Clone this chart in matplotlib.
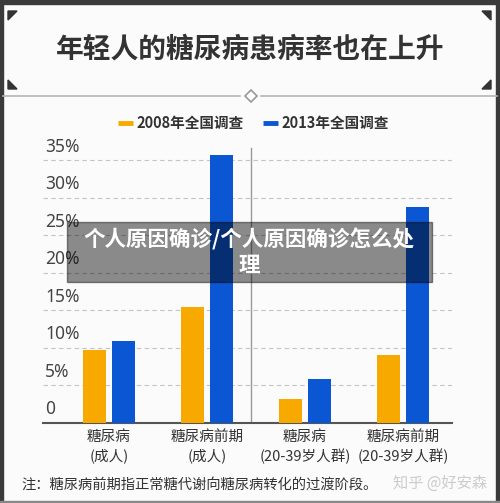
import matplotlib
matplotlib.use("Agg")
import matplotlib.pyplot as plt
from matplotlib.patches import Rectangle, Polygon
import numpy as np

plt.rcParams['font.family'] = ['Noto Sans CJK SC', 'DejaVu Sans']

categories = ["糖尿病\n(成人)", "糖尿病前期\n(成人)", "糖尿病\n(20-39岁人群)", "糖尿病前期\n(20-39岁人群)"]
series_names = ["2008年全国调查", "2013年全国调查"]
values_2008 = [9.7, 15.5, 3.2, 9.0]
values_2013 = [10.9, 35.7, 5.9, 28.8]
yticks = [0, 5, 10, 15, 20, 25, 30, 35]
ytick_labels = ["0", "5%", "10%", "15%", "20%", "25%", "30%", "35%"]
title = "年轻人的糖尿病患病率也在上升"
note = "注：糖尿病前期指正常糖代谢向糖尿病转化的过渡阶段。"
watermark = "知乎 @好安森"
overlay = "个人原因确诊/个人原因确诊怎么处\n理"

ORANGE = "#F7A900"
BLUE = "#0B56D2"
W, H = 500, 503
fig = plt.figure(figsize=(W / 100, H / 100), dpi=100)
fig.patch.set_facecolor("#fbfbfb")

def fx(px):
    return px / W

def fy(py):
    return 1 - py / H

# frame borders
fig.add_artist(Rectangle((0, fy(4)), 1, 4 / H, transform=fig.transFigure, color="#3a3a3a", zorder=0))
fig.add_artist(Rectangle((0, 0), 3 / W, 1, transform=fig.transFigure, color="#3a3a3a", zorder=0))
fig.add_artist(Rectangle((fx(496), 0), 4 / W, 1, transform=fig.transFigure, color="#3a3a3a", zorder=0))
fig.add_artist(Rectangle((0, 0), 1, 2 / H, transform=fig.transFigure, color="#888888", zorder=0))

# corner triangles
def tri(pts):
    fig.add_artist(Polygon([(fx(x), fy(y)) for x, y in pts], closed=True,
                           transform=fig.transFigure, color="#333333"))
tri([(8, 11), (17, 11), (8, 20)])
tri([(491, 11), (482, 11), (491, 20)])
tri([(8, 89), (17, 89), (8, 80)])
tri([(491, 89), (482, 89), (491, 80)])

# title
fig.text(0.5, fy(50), title, ha="center", va="center", fontsize=20, fontweight="bold", color="#333333")

# separator with diamond
fig.add_artist(plt.Line2D([fx(3), fx(240)], [fy(96), fy(96)], transform=fig.transFigure, color="#b5b5b5", lw=1.2))
fig.add_artist(plt.Line2D([fx(261), fx(497)], [fy(96), fy(96)], transform=fig.transFigure, color="#b5b5b5", lw=1.2))
fig.add_artist(plt.Line2D([fx(251)], [fy(96)], transform=fig.transFigure, marker="D", markersize=6,
                          markerfacecolor="white", markeredgecolor="#999999", markeredgewidth=1.2, linestyle="none"))

# legend
for px0, color, name in [(118, ORANGE, series_names[0]), (263, BLUE, series_names[1])]:
    fig.add_artist(plt.Line2D([fx(px0), fx(px0 + 15)], [fy(123), fy(123)], transform=fig.transFigure,
                              color=color, lw=3.5, solid_capstyle="butt"))
    fig.text(fx(px0 + 18), fy(123), name, ha="left", va="center", fontsize=10.5,
             fontweight="bold", color="#333333")

# axes
ppu = 7.51
ax_bottom_px = 423
ymax = 37.5
ax_top_px = ax_bottom_px - ymax * ppu
ax = fig.add_axes([fx(43), fy(ax_bottom_px), fx(452) - fx(43), (ax_bottom_px - ax_top_px) / H])
ax.set_facecolor("none")
x = np.arange(len(categories))
xl = -(109 - 43) / 98
xr = 3 + (452 - 403) / 98
ax.set_xlim(xl, xr)
ax.set_ylim(0, ymax)
bw = 23 / 98
off = 14.5 / 98
ax.bar(x - off, values_2008, width=bw, color=ORANGE, zorder=3)
ax.bar(x + off, values_2013, width=bw, color=BLUE, zorder=3)

for s in ["top", "right", "left"]:
    ax.spines[s].set_visible(False)
ax.spines["bottom"].set_color("#555555")
ax.spines["bottom"].set_linewidth(1.5)
ax.set_yticks(yticks[1:])
ax.set_yticklabels([])
ax.tick_params(axis="y", length=0)
ax.yaxis.grid(True, linestyle=(0, (4, 3)), color="#c4c4c4", lw=0.8, zorder=0)
for v, lab in zip(yticks, ytick_labels):
    ax.text(0.005, v + 0.6, lab, transform=ax.get_yaxis_transform(), ha="left", va="bottom",
            fontsize=12.5, fontweight="medium", color="#444444", family=["Noto Sans", "DejaVu Sans"], zorder=4)

ax.set_xticks(x)
ax.set_xticklabels(categories, fontsize=10.5, color="#333333", linespacing=1.35)
ax.tick_params(axis="x", length=0, pad=5)

# vertical separator
ax.plot([1.45, 1.45], [0, 36.6], color="#9a9a9a", lw=1.0, zorder=2)

# note and watermark
fig.text(fx(21), fy(485), note, ha="left", va="center", fontsize=10.3, color="#333333")
fig.text(fx(487), fy(483), watermark, ha="right", va="center", fontsize=11, color="#cccccc")

# overlay box
fig.add_artist(Rectangle((fx(67), fy(282)), (432 - 67) / W, 60 / H, transform=fig.transFigure,
                         color="black", alpha=0.45, zorder=10))
fig.text(fx(249), fy(252), overlay, ha="center", va="center", fontsize=15.5, fontweight="bold",
         color="white", linespacing=1.2, zorder=11)

fig.savefig("out.png", dpi=100, facecolor=fig.get_facecolor())
